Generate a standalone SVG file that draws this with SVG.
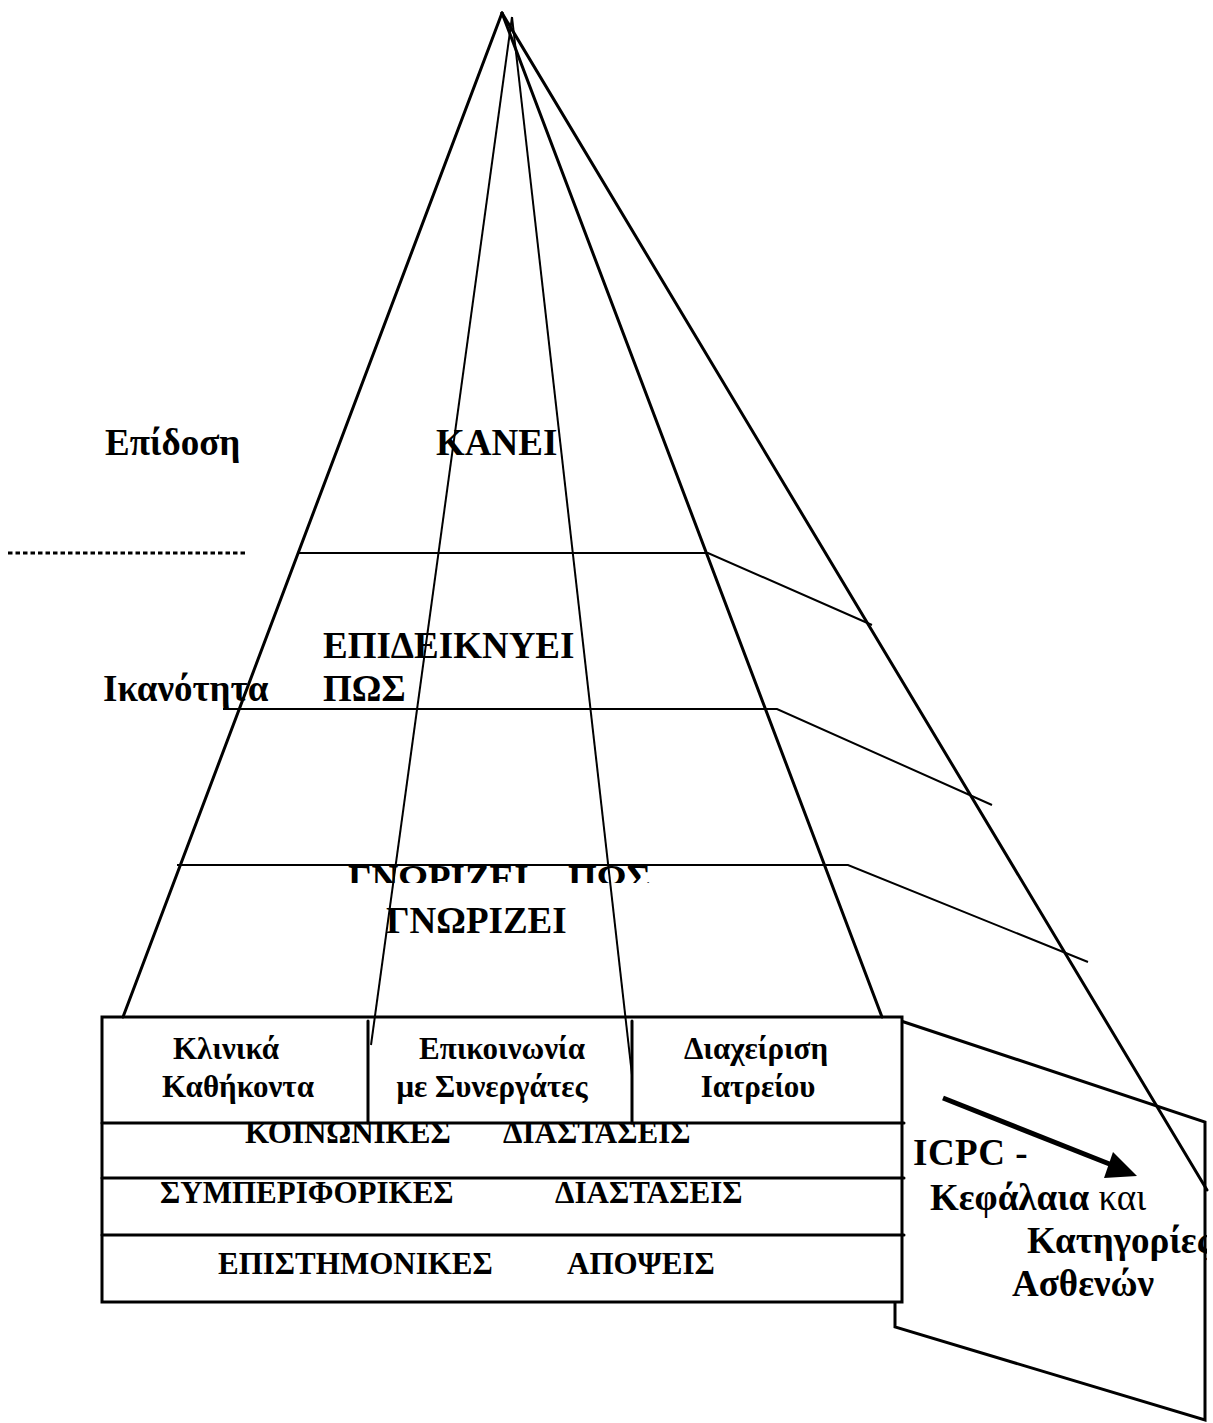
<svg xmlns="http://www.w3.org/2000/svg" width="1213" height="1423" viewBox="0 0 1213 1423">
<defs>
<style>
.big{font-family:"Liberation Serif","Times New Roman",serif;font-weight:bold;font-size:37px;fill:#000}
.tb{font-family:"Liberation Serif","Times New Roman",serif;font-weight:bold;font-size:31px;fill:#000}
.pn{font-family:"Liberation Serif","Times New Roman",serif;font-size:37px;fill:#000}
.thick{stroke:#000;stroke-width:3;fill:none;stroke-linecap:round}
.thin{stroke:#000;stroke-width:2;fill:none}
.frame{stroke:#000;stroke-width:3;fill:#fff}
</style>
<clipPath id="clipG"><rect x="300" y="866" width="400" height="17"/></clipPath>
<clipPath id="clipP"><rect x="900" y="1125" width="307" height="200"/></clipPath>
</defs>

<g id="labels">
<text class="big" x="105" y="455">Επίδοση</text>
<text class="big" x="436" y="455">ΚΑΝΕΙ</text>
<text class="big" x="323" y="658">ΕΠΙΔΕΙΚΝΥΕΙ</text>
<text class="big" x="103" y="701">Ικανότητα</text>
<text class="big" x="323" y="701">ΠΩΣ</text>
<text class="big" x="348" y="891" clip-path="url(#clipG)">ΓΝΩΡΙΖΕΙ<tspan x="568">ΠΩΣ</tspan></text>
<text class="big" x="386" y="933">ΓΝΩΡΙΖΕΙ</text>
</g>

<g id="panel">
<polygon class="frame" points="895,1019 1205,1122 1205,1420 895,1327"/>
<g clip-path="url(#clipP)">
<text class="pn" font-weight="bold" x="913" y="1165" letter-spacing="0.5">ICPC -</text>
<text class="pn" x="930" y="1210"><tspan font-weight="bold">Κεφάλαια</tspan> και</text>
<text class="pn" font-weight="bold" x="1027" y="1253">Κατηγορίες</text>
<text class="pn" font-weight="bold" x="1012" y="1296">Ασθενών</text>
</g>
</g>

<g id="table">
<rect class="frame" x="102" y="1017" width="800" height="285"/>
<line class="thick" x1="102" y1="1123" x2="904" y2="1123"/>
<line class="thick" x1="102" y1="1178" x2="904" y2="1178"/>
<line class="thick" x1="102" y1="1235" x2="904" y2="1235"/>
<line class="thick" x1="368" y1="1021" x2="368" y2="1123" stroke-linecap="butt"/>
<line class="thick" x1="632" y1="1021" x2="632" y2="1123" stroke-linecap="butt"/>
<g text-anchor="middle">
<text class="tb" x="226" y="1059">Κλινικά</text>
<text class="tb" x="238" y="1097">Καθήκοντα</text>
<text class="tb" x="502" y="1059">Επικοινωνία</text>
<text class="tb" x="492" y="1097">με Συνεργάτες</text>
<text class="tb" x="756" y="1059">Διαχείριση</text>
<text class="tb" x="758" y="1097">Ιατρείου</text>
</g>
<text class="tb" x="245" y="1143">ΚΟΙΝΩΝΙΚΕΣ<tspan x="503">ΔΙΑΣΤΑΣΕΙΣ</tspan></text>
<text class="tb" x="160" y="1203">ΣΥΜΠΕΡΙΦΟΡΙΚΕΣ<tspan x="555">ΔΙΑΣΤΑΣΕΙΣ</tspan></text>
<text class="tb" x="218" y="1274">ΕΠΙΣΤΗΜΟΝΙΚΕΣ<tspan x="567">ΑΠΟΨΕΙΣ</tspan></text>
</g>

<g id="connectors">
<line x1="8" y1="553" x2="247" y2="553" stroke="#000" stroke-width="3" stroke-dasharray="4.5 3"/>
<line class="thick" x1="502" y1="13" x2="123" y2="1017"/>
<line class="thin" x1="512" y1="17" x2="371" y2="1045"/>
<line class="thin" x1="512" y1="17" x2="632" y2="1075"/>
<line class="thick" x1="502" y1="13" x2="882" y2="1017"/>
<line class="thick" x1="502" y1="13" x2="1207" y2="1190"/>
<polyline class="thin" points="298,553 708,553 872,625"/>
<polyline class="thin" points="223,709 777,709 992,805"/>
<polyline class="thin" points="177,865 848,865 1088,962"/>
<line x1="943" y1="1098" x2="1112" y2="1165" stroke="#000" stroke-width="5"/>
<polygon points="1137,1176 1104,1178 1113,1152" fill="#000"/>
</g>
</svg>
